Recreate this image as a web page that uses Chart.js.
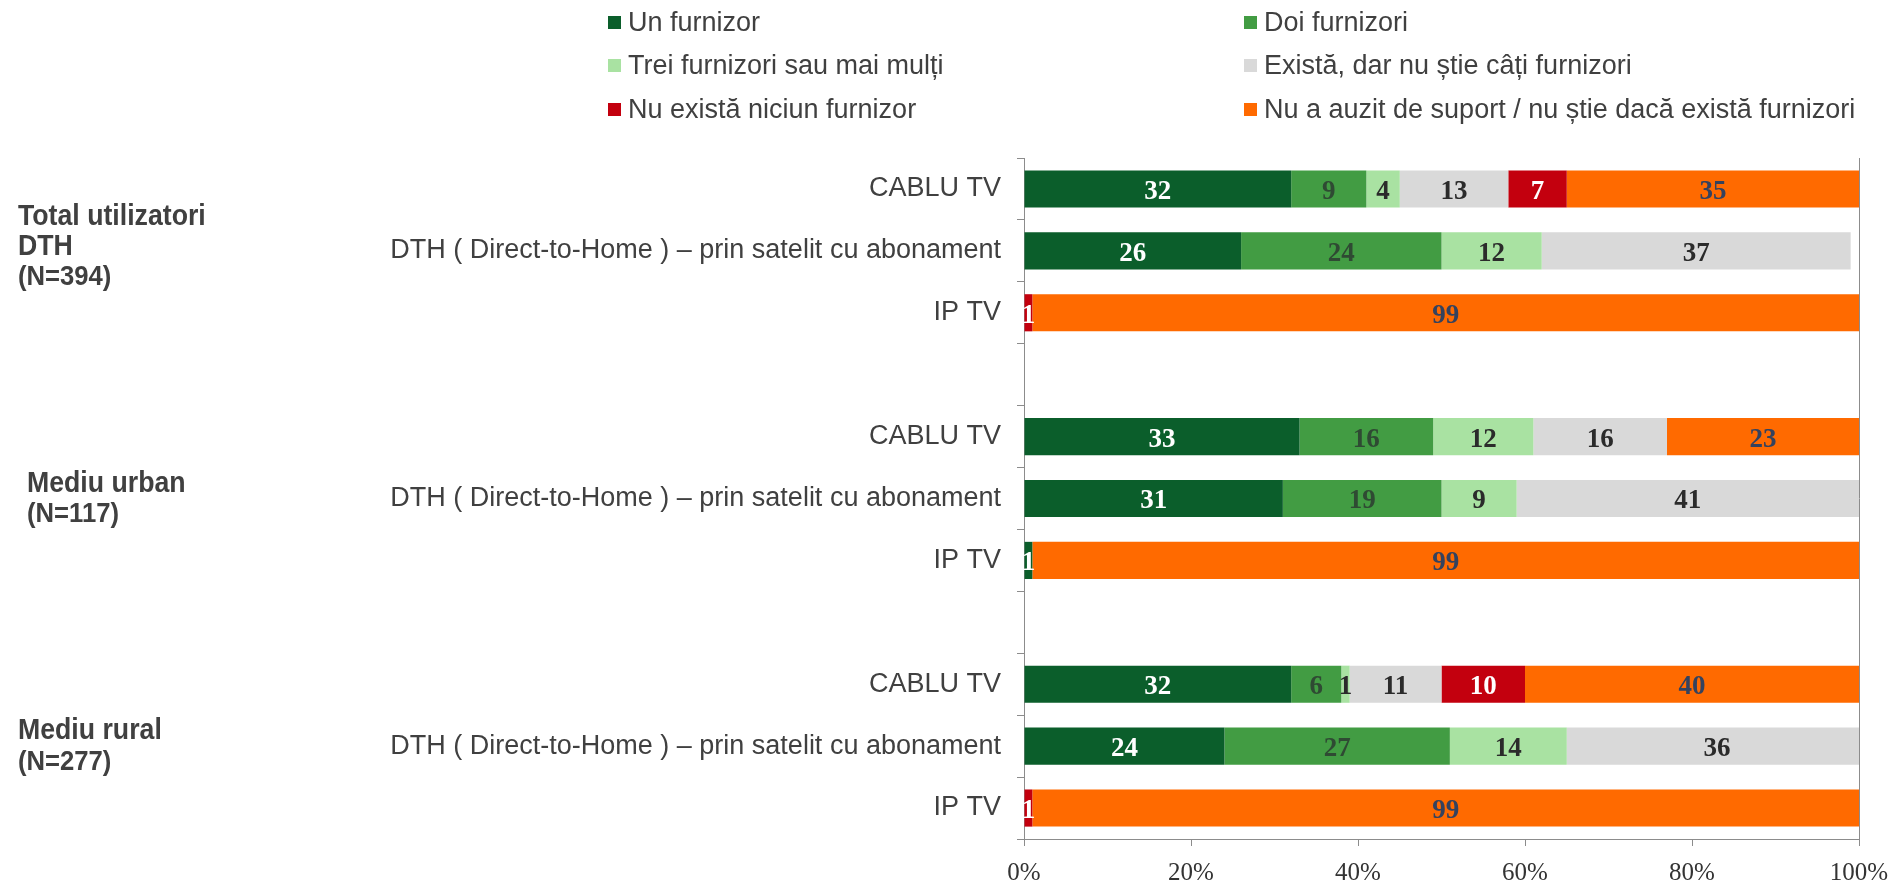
<!DOCTYPE html>
<html>
<head>
<meta charset="utf-8">
<title>Furnizori suport TV</title>
<script src="https://cdn.jsdelivr.net/npm/chart.js@4.4.1/dist/chart.umd.min.js"></script>
<style>
  html, body { margin: 0; padding: 0; background: #fff; }
  #wrap { width: 1893px; height: 886px; }
</style>
</head>
<body>
<div id="wrap"><canvas id="myChart" width="1893" height="886"></canvas></div>
<script>
// categories (empty strings are spacer rows between groups)
const categories = [
  'CABLU TV', 'DTH ( Direct-to-Home ) – prin satelit cu abonament', 'IP TV', '',
  'CABLU TV', 'DTH ( Direct-to-Home ) – prin satelit cu abonament', 'IP TV', '',
  'CABLU TV', 'DTH ( Direct-to-Home ) – prin satelit cu abonament', 'IP TV'
];
const groupTitles = [['Total utilizatori', 'DTH'], ['Mediu urban'], ['Mediu rural']];
const groupN = ['(N=394)', '(N=117)', '(N=277)'];
const groupRows = [1, 5, 9];

const seriesNames = [
  'Un furnizor',
  'Doi furnizori',
  'Trei furnizori sau mai mulți',
  'Există, dar nu știe câți furnizori',
  'Nu există niciun furnizor',
  'Nu a auzit de suport / nu știe dacă există furnizori'
];
const unFurnizor     = [32, 26, 0, null, 33, 31, 1, null, 32, 24, 0];
const doiFurnizori   = [9, 24, 0, null, 16, 19, 0, null, 6, 27, 0];
const treiFurnizori  = [4, 12, 0, null, 12, 9, 0, null, 1, 14, 0];
const existaNuStie   = [13, 37, 0, null, 16, 41, 0, null, 11, 36, 0];
const niciunFurnizor = [7, 0, 1, null, 0, 0, 0, null, 10, 0, 1];
const nuAAuzit       = [35, 0, 99, null, 23, 0, 99, null, 40, 0, 99];

const xTicks = [0, 20, 40, 60, 80, 100];

const colors = ['#0b5e2b', '#429c43', '#a9e2a2', '#d9d9d9', '#c3000e', '#ff6a00'];
const labelColors = ['#ffffff', '#2f4a33', '#2b2b2b', '#2b2b2b', '#ffffff', '#34425e'];
const allSeries = [unFurnizor, doiFurnizori, treiFurnizori, existaNuStie, niciunFurnizor, nuAAuzit];

const sans = '"Liberation Sans", Arial, sans-serif';
const serif = '"Liberation Serif", "DejaVu Serif", serif';

function drawText(ctx, text, x, y, font, sx) {
  ctx.save();
  ctx.translate(x, y);
  ctx.scale(sx, 1);
  ctx.font = font;
  ctx.fillText(text, 0, 0);
  ctx.restore();
}

// labels inside bars, legend, group titles, right frame line
const extras = {
  id: 'extras',
  afterDatasetsDraw(chart) {
    const ctx = chart.ctx;
    ctx.save();
    ctx.font = 'bold 27px ' + serif;
    ctx.textAlign = 'center';
    ctx.textBaseline = 'middle';
    chart.data.datasets.forEach((ds, i) => {
      chart.getDatasetMeta(i).data.forEach((bar, j) => {
        const v = ds.data[j];
        if (!v) return;
        ctx.fillStyle = labelColors[i];
        ctx.fillText(String(v), (bar.x + bar.base) / 2, bar.y + 3);
      });
    });
    // right frame line
    const ca = chart.chartArea;
    ctx.strokeStyle = '#8c8c8c';
    ctx.lineWidth = 1;
    ctx.beginPath();
    ctx.moveTo(ca.right + 0.5, ca.top);
    ctx.lineTo(ca.right + 0.5, ca.bottom);
    ctx.stroke();
    ctx.restore();
  },
  afterDraw(chart) {
    const ctx = chart.ctx;
    ctx.save();
    // legend: two columns, three rows
    const colX = [608, 1244];
    const rowY = [23, 66, 110];
    ctx.textBaseline = 'middle';
    ctx.textAlign = 'left';
    chart.data.datasets.forEach((ds, i) => {
      const x = colX[i % 2], y = rowY[Math.floor(i / 2)];
      ctx.fillStyle = ds.backgroundColor;
      ctx.fillRect(x, y - 7, 13, 13);
      ctx.fillStyle = '#404040';
      drawText(ctx, ds.label, x + 20, y + 1, '27px ' + sans, 1);
    });
    // group titles at the left
    const y = chart.scales.y;
    const gx = [18, 27, 18];
    const gdy = [-4, 0, 0];
    groupTitles.forEach((lines, g) => {
      const all = lines.concat([groupN[g]]);
      const lh = 30;
      const cy = y.getPixelForValue(groupRows[g]) + gdy[g];
      const top = cy - (all.length - 1) * lh / 2;
      all.forEach((t, k) => {
        const isN = k === all.length - 1;
        ctx.fillStyle = '#404040';
        if (isN) {
          drawText(ctx, t, gx[g], top + k * lh + 1, 'bold 27px ' + sans, 0.95);
        } else {
          drawText(ctx, t, gx[g], top + k * lh, 'bold 29px ' + sans, 0.92);
        }
      });
    });
    ctx.restore();
  }
};

const ctx = document.getElementById('myChart').getContext('2d');
const chart = new Chart(ctx, {
  type: 'bar',
  data: {
    labels: categories,
    datasets: seriesNames.map((name, i) => ({
      label: name,
      data: allSeries[i],
      backgroundColor: colors[i],
      borderWidth: 0,
      barPercentage: 0.6,
      categoryPercentage: 1.0
    }))
  },
  options: {
    indexAxis: 'y',
    responsive: false,
    devicePixelRatio: 1,
    animation: false,
    layout: { padding: { top: 158, right: 34, bottom: 0, left: 0 } },
    plugins: {
      legend: { display: false },
      tooltip: { enabled: false }
    },
    scales: {
      x: {
        stacked: true,
        min: 0,
        max: 100,
        afterBuildTicks: (scale) => { scale.ticks = xTicks.map(v => ({ value: v })); },
        afterFit: (scale) => {
          scale.height = 47;
          scale.paddingLeft = 0;
          scale.paddingRight = 0;
        },
        grid: { drawOnChartArea: false, drawTicks: true, tickLength: 7, color: '#8c8c8c' },
        border: { display: true, color: '#8c8c8c' },
        ticks: {
          padding: 12,
          color: '#333',
          font: { family: serif, size: 25 },
          callback: (v) => v + '%'
        }
      },
      y: {
        stacked: true,
        afterFit: (scale) => { scale.width = 1024; },
        grid: { drawOnChartArea: false, drawTicks: true, tickLength: 7, color: '#8c8c8c', offset: true },
        border: { display: true, color: '#8c8c8c' },
        ticks: {
          padding: 16,
          color: '#404040',
          autoSkip: false,
          font: { family: sans, size: 27 }
        }
      }
    }
  },
  plugins: [extras]
});
</script>
</body>
</html>
